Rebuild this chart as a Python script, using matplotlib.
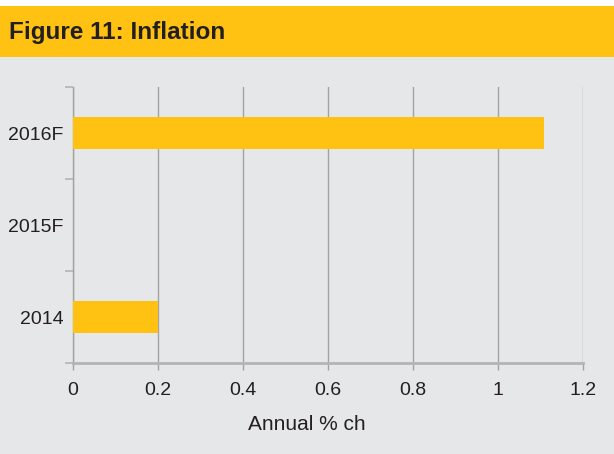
import numpy as np
import matplotlib
matplotlib.use("Agg")
import matplotlib.pyplot as plt
from matplotlib.patches import Rectangle

categories = ["2014", "2015F", "2016F"]
values = [0.2, np.nan, 1.108]
xticks = [0, 0.2, 0.4, 0.6, 0.8, 1, 1.2]
xtick_labels = ["0", "0.2", "0.4", "0.6", "0.8", "1", "1.2"]
title = "Figure 11: Inflation"
xlabel = "Annual % ch"

YELLOW = "#FFC212"
BG = "#E6E7E9"
GRID = "#A3A3A3"
AXIS = "#B4B4B4"
TXT = "#231F20"

plt.rcParams["font.family"] = ["Liberation Sans", "DejaVu Sans"]

W, H = 614, 454
fig = plt.figure(figsize=(W / 100, H / 100), dpi=100)
fig.patch.set_facecolor(BG)

# white strip and header band
fig.add_artist(Rectangle((0, (H - 6) / H), 1, 6 / H, transform=fig.transFigure,
                         facecolor="white", edgecolor="none", zorder=0))
fig.add_artist(Rectangle((0, (H - 57) / H), 1, 51 / H, transform=fig.transFigure,
                         facecolor=YELLOW, edgecolor="none", zorder=0))
fig.text(9 / W, (H - 32) / H, title, fontsize=17.5, fontweight="bold",
         color=TXT, ha="left", va="center")

left, right, top, bottom = 73, 583, 87, 363
ax = fig.add_axes([left / W, (H - bottom) / H, (right - left) / W, (bottom - top) / H])
ax.set_facecolor(BG)

y = np.arange(len(categories))
ax.barh(y, values, height=0.34, color=YELLOW, zorder=3)

ax.set_xlim(0, 1.2)
ax.set_ylim(-0.5, len(categories) - 0.5)
ax.set_xticks(xticks)
ax.set_xticklabels(xtick_labels)
ax.set_yticks(np.arange(-0.5, len(categories), 1.0))
ax.set_yticklabels([])
ax.set_yticks(y, minor=True)
ax.set_yticklabels(categories, minor=True)

ax.grid(axis="x", color=GRID, linewidth=1.0, zorder=1)
for s in ["top", "right"]:
    ax.spines[s].set_visible(False)
ax.spines["left"].set_color(GRID)
ax.spines["left"].set_linewidth(1.0)
ax.spines["bottom"].set_color(AXIS)
ax.spines["bottom"].set_linewidth(2.0)
ax.spines["bottom"].set_zorder(4)

ax.tick_params(axis="x", which="major", length=5, width=1, color=GRID,
               labelsize=14, labelcolor=TXT, pad=8.5)
ax.tick_params(axis="y", which="major", length=6, width=1.2, color=AXIS)
ax.tick_params(axis="y", which="minor", length=0, labelsize=14,
               labelcolor=TXT, pad=7)

fig.text(307 / W, (H - 425) / H, xlabel, fontsize=15, color=TXT,
         ha="center", va="center")

fig.savefig("out.png", dpi=100, facecolor=fig.get_facecolor())
